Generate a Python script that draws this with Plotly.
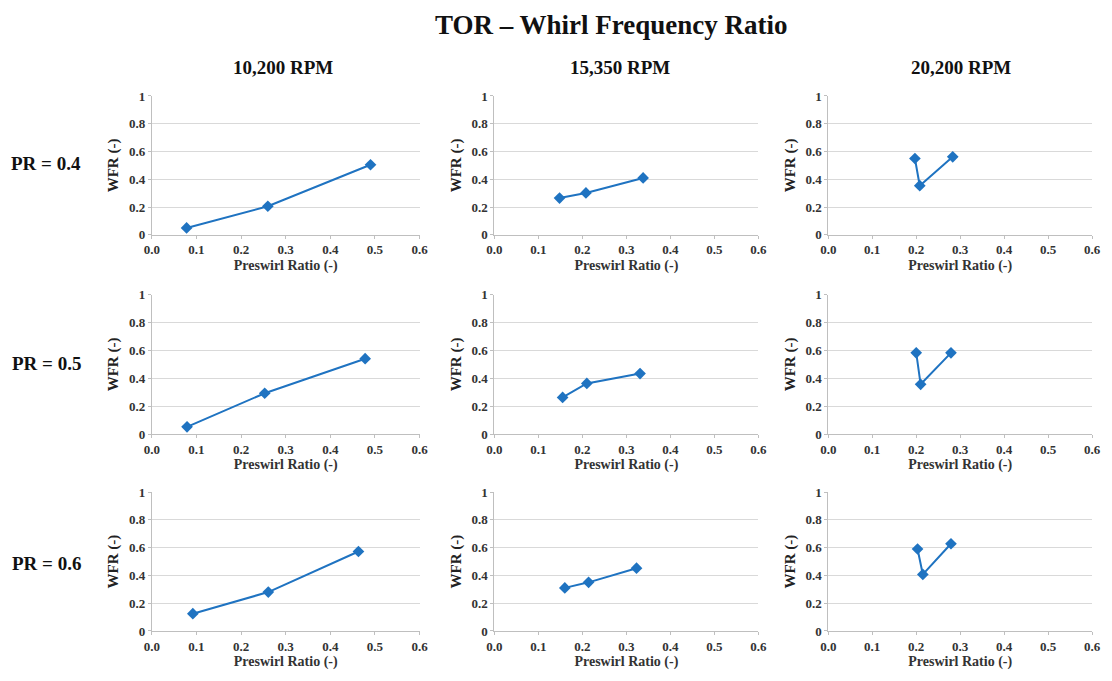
import plotly.graph_objects as go

# ---------------- data ----------------
speeds = ["10,200 RPM", "15,350 RPM", "20,200 RPM"]
pressure_ratios = ["PR = 0.4", "PR = 0.5", "PR = 0.6"]

# Preswirl ratio (x) and WFR (y) per panel: row = PR, col = speed
psr_pr04_10200 = [0.078, 0.260, 0.490]
wfr_pr04_10200 = [0.050, 0.206, 0.505]
psr_pr04_15350 = [0.148, 0.208, 0.338]
wfr_pr04_15350 = [0.265, 0.302, 0.410]
psr_pr04_20200 = [0.197, 0.208, 0.283]
wfr_pr04_20200 = [0.550, 0.354, 0.562]

psr_pr05_10200 = [0.079, 0.253, 0.478]
wfr_pr05_10200 = [0.054, 0.294, 0.541]
psr_pr05_15350 = [0.155, 0.210, 0.331]
wfr_pr05_15350 = [0.264, 0.364, 0.435]
psr_pr05_20200 = [0.200, 0.210, 0.279]
wfr_pr05_20200 = [0.583, 0.358, 0.583]

psr_pr06_10200 = [0.092, 0.261, 0.463]
wfr_pr06_10200 = [0.124, 0.280, 0.572]
psr_pr06_15350 = [0.160, 0.214, 0.323]
wfr_pr06_15350 = [0.310, 0.350, 0.452]
psr_pr06_20200 = [0.203, 0.215, 0.279]
wfr_pr06_20200 = [0.590, 0.407, 0.628]

x_ticks = [0.0, 0.1, 0.2, 0.3, 0.4, 0.5, 0.6]
y_ticks = [0, 0.2, 0.4, 0.6, 0.8, 1]

panels = [
    [(psr_pr04_10200, wfr_pr04_10200), (psr_pr04_15350, wfr_pr04_15350), (psr_pr04_20200, wfr_pr04_20200)],
    [(psr_pr05_10200, wfr_pr05_10200), (psr_pr05_15350, wfr_pr05_15350), (psr_pr05_20200, wfr_pr05_20200)],
    [(psr_pr06_10200, wfr_pr06_10200), (psr_pr06_15350, wfr_pr06_15350), (psr_pr06_20200, wfr_pr06_20200)],
]

# ---------------- layout geometry ----------------
W, H = 1112, 681
col_px = [(146, 418), (494, 762), (833, 1101)]
row_px = [(91, 233), (294, 437), (496, 638)]

FONT = "Liberation Serif"
BLUE = "#1F73C1"
GRID = "#D9D9D9"
AXIS = "#BFBFBF"

fig = go.Figure()
layout = dict(
    width=W, height=H,
    margin=dict(l=0, r=0, t=0, b=0),
    paper_bgcolor="white", plot_bgcolor="white",
    showlegend=False,
    font=dict(family=FONT, color="#222222"),
)

annotations = []
k = 0
for r in range(3):
    for c in range(3):
        k += 1
        xa = "xaxis" if k == 1 else f"xaxis{k}"
        ya = "yaxis" if k == 1 else f"yaxis{k}"
        xref = "x" if k == 1 else f"x{k}"
        yref = "y" if k == 1 else f"y{k}"
        xs, ys = panels[r][c]
        fig.add_trace(go.Scatter(
            x=xs, y=ys, mode="lines+markers",
            line=dict(color=BLUE, width=2),
            marker=dict(symbol="diamond", size=9, color=BLUE),
            xaxis=xref, yaxis=yref, hoverinfo="x+y",
        ))
        x0, x1 = col_px[c]
        y0, y1 = row_px[r]
        layout[xa] = dict(
            domain=[x0 / W, x1 / W], anchor=yref,
            range=[0, 0.6], tickvals=x_ticks, tickformat=".1f",
            showgrid=False, zeroline=False,
            showline=True, linecolor=AXIS, linewidth=1,
            ticks="outside", ticklen=3, tickcolor=AXIS,
            tickfont=dict(family=FONT, size=13, color="#333333", weight="bold"),
            title=dict(text="Preswirl Ratio (-)", standoff=3,
                       font=dict(family=FONT, size=14, color="#333333", weight="bold")),
            fixedrange=True,
        )
        layout[ya] = dict(
            domain=[1 - y1 / H, 1 - y0 / H], anchor=xref,
            range=[0, 1], tickvals=y_ticks,
            showgrid=True, gridcolor=GRID, gridwidth=1,
            zeroline=False,
            showline=True, linecolor=AXIS, linewidth=1,
            ticks="outside", ticklen=3, tickcolor=AXIS,
            tickfont=dict(family=FONT, size=13, color="#333333", weight="bold"),
            title=dict(text="WFR (-)", standoff=6,
                       font=dict(family=FONT, size=15, color="#222222", weight="bold")),
            fixedrange=True,
        )

# Main title
annotations.append(dict(
    text="<b>TOR – Whirl Frequency Ratio</b>", x=613 / W, y=1 - 18 / H,
    xref="paper", yref="paper", showarrow=False, xanchor="center", yanchor="middle",
    font=dict(family=FONT, size=27, color="#111111"),
))
# Column headers
for c, s in enumerate(speeds):
    cx = [279, 621, 968][c]
    annotations.append(dict(
        text=f"<b>{s}</b>", x=cx / W, y=1 - 62 / H,
        xref="paper", yref="paper", showarrow=False, xanchor="center", yanchor="middle",
        font=dict(family=FONT, size=19, color="#111111"),
    ))
# Row labels
for r, s in enumerate(pressure_ratios):
    cy = [160, 365, 569][r]
    annotations.append(dict(
        text=f"<b>{s}</b>", x=39 / W, y=1 - cy / H,
        xref="paper", yref="paper", showarrow=False, xanchor="center", yanchor="middle",
        font=dict(family=FONT, size=19, color="#111111"),
    ))

layout["annotations"] = annotations
fig.update_layout(**layout)
fig.write_html("out.html")
